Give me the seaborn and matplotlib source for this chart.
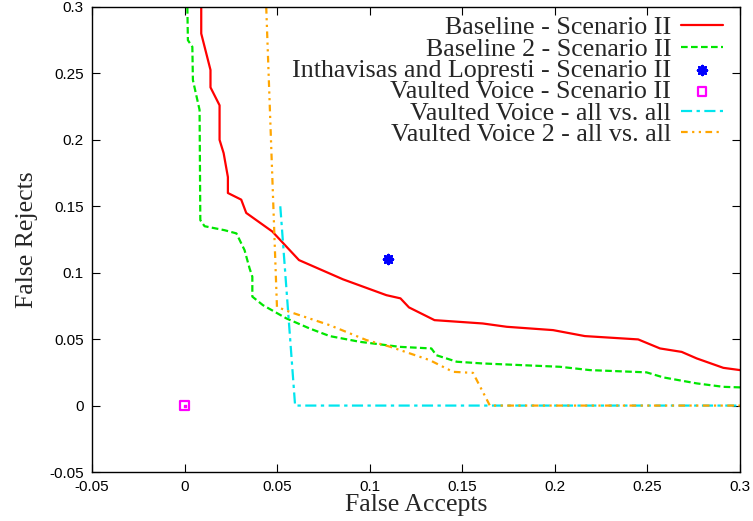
import numpy as np
import pandas as pd
import matplotlib
matplotlib.use("Agg")
import matplotlib.pyplot as plt
import seaborn as sns

# curves
base_x = [0.009, 0.009, 0.014, 0.014, 0.0189, 0.0189, 0.0211, 0.0234, 0.0234, 0.0306, 0.0333,
          0.0474, 0.0618, 0.0856, 0.109, 0.1166, 0.1212, 0.135, 0.161, 0.174, 0.199, 0.2162,
          0.245, 0.2568, 0.2685, 0.2766, 0.291, 0.3]
base_y = [0.30, 0.280, 0.2526, 0.2395, 0.226, 0.200, 0.190, 0.172, 0.160, 0.155, 0.145,
          0.131, 0.1095, 0.095, 0.0831, 0.0807, 0.0739, 0.0643, 0.0618, 0.0593, 0.0568, 0.0523,
          0.0498, 0.043, 0.0404, 0.0355, 0.0284, 0.0267]

base2_x = [0.0015, 0.0018, 0.0042, 0.0045, 0.0081, 0.0085, 0.0108, 0.0216, 0.028, 0.0324,
           0.0351, 0.0366, 0.0366, 0.0423, 0.055, 0.0676, 0.0784, 0.0946, 0.1162, 0.1333,
           0.136, 0.147, 0.161, 0.2027, 0.2189, 0.2495, 0.2586, 0.2766, 0.291, 0.3]
base2_y = [0.30, 0.275, 0.270, 0.245, 0.2225, 0.1396, 0.135, 0.132, 0.1296, 0.117,
           0.1033, 0.097, 0.082, 0.0756, 0.0656, 0.058, 0.0523, 0.048, 0.0442, 0.043,
           0.0379, 0.033, 0.0317, 0.0292, 0.0267, 0.025, 0.0212, 0.0167, 0.0141, 0.0137]

intha_x = [0.11]
intha_y = [0.11]

vv_x = [0.0]
vv_y = [0.0]

vv_all_x = [0.0517, 0.0597, 0.3]
vv_all_y = [0.15, 0.0, 0.0]

vv2_all_x = [0.0441, 0.0499, 0.0568, 0.0784, 0.0982, 0.111, 0.1324, 0.145, 0.1558, 0.1649, 0.3]
vv2_all_y = [0.30, 0.0743, 0.0705, 0.0605, 0.0493, 0.0443, 0.0342, 0.0254, 0.0246, 0.0, 0.0]

tick_vals = [-0.05, 0, 0.05, 0.1, 0.15, 0.2, 0.25, 0.3]
tick_text = ['-0.05', '0', '0.05', '0.1', '0.15', '0.2', '0.25', '0.3']

sns.set_theme(style="ticks")
plt.rcParams['font.family'] = ['Liberation Sans', 'DejaVu Sans']

fig = plt.figure(figsize=(7.53, 5.21), dpi=100)
ax = fig.add_axes([92/753, 1 - 472/521, 648/753, 465/521])

sns.lineplot(x=base_x, y=base_y, sort=False, estimator=None, ax=ax, color='#ff0000',
             lw=1.6, label='Baseline - Scenario II')
sns.lineplot(x=base2_x, y=base2_y, sort=False, estimator=None, ax=ax, color='#00e600',
             lw=1.6, label='Baseline 2 - Scenario II').lines[-1].set_dashes([3, 1.5])
ax.scatter(intha_x, intha_y, marker=(8, 2, 0), s=40, color='#0000ff', linewidths=2,
           label='Inthavisas and Lopresti - Scenario II', zorder=5)
ax.scatter(vv_x, vv_y, marker='s', s=40, facecolors='none', edgecolors='#ff00ff',
           linewidths=1.6, label='Vaulted Voice - Scenario II', zorder=5)
ax.scatter(vv_x, vv_y, marker='s', s=2, color='#ff00ff', zorder=6)
sns.lineplot(x=vv_all_x, y=vv_all_y, sort=False, estimator=None, ax=ax, color='#00e5ee',
             lw=1.6, label='Vaulted Voice - all vs. all').lines[-1].set_dashes([5, 2, 1.5, 2])
sns.lineplot(x=vv2_all_x, y=vv2_all_y, sort=False, estimator=None, ax=ax, color='#ffa500',
             lw=1.6, label='Vaulted Voice 2 - all vs. all').lines[-1].set_dashes([3, 2, 1, 2, 1, 2])

ax.set_xlim(-0.05, 0.3)
ax.set_ylim(-0.05, 0.3)
ax.set_xticks(tick_vals)
ax.set_yticks(tick_vals)
ax.set_xticklabels(tick_text)
ax.set_yticklabels(tick_text)
ax.tick_params(direction='in', length=6, width=0.8, labelsize=11, top=True, right=True,
               colors='black', pad=6)
for s in ax.spines.values():
    s.set_visible(True)
    s.set_color('black')
    s.set_linewidth(1.0)

ax.set_xlabel('False Accepts', fontsize=18.5, family='Liberation Serif', labelpad=0)
ax.set_ylabel('False Rejects', fontsize=18.5, family='Liberation Serif', labelpad=8)

leg = ax.legend(loc='upper right', frameon=False, markerfirst=False,
                prop={'family': 'Liberation Serif', 'size': 18.7}, labelspacing=-0.07,
                handlelength=1.65, handletextpad=0.36, borderaxespad=0.24,
                bbox_to_anchor=(1.0, 1.016))

fig.savefig('out.png', dpi=100)
